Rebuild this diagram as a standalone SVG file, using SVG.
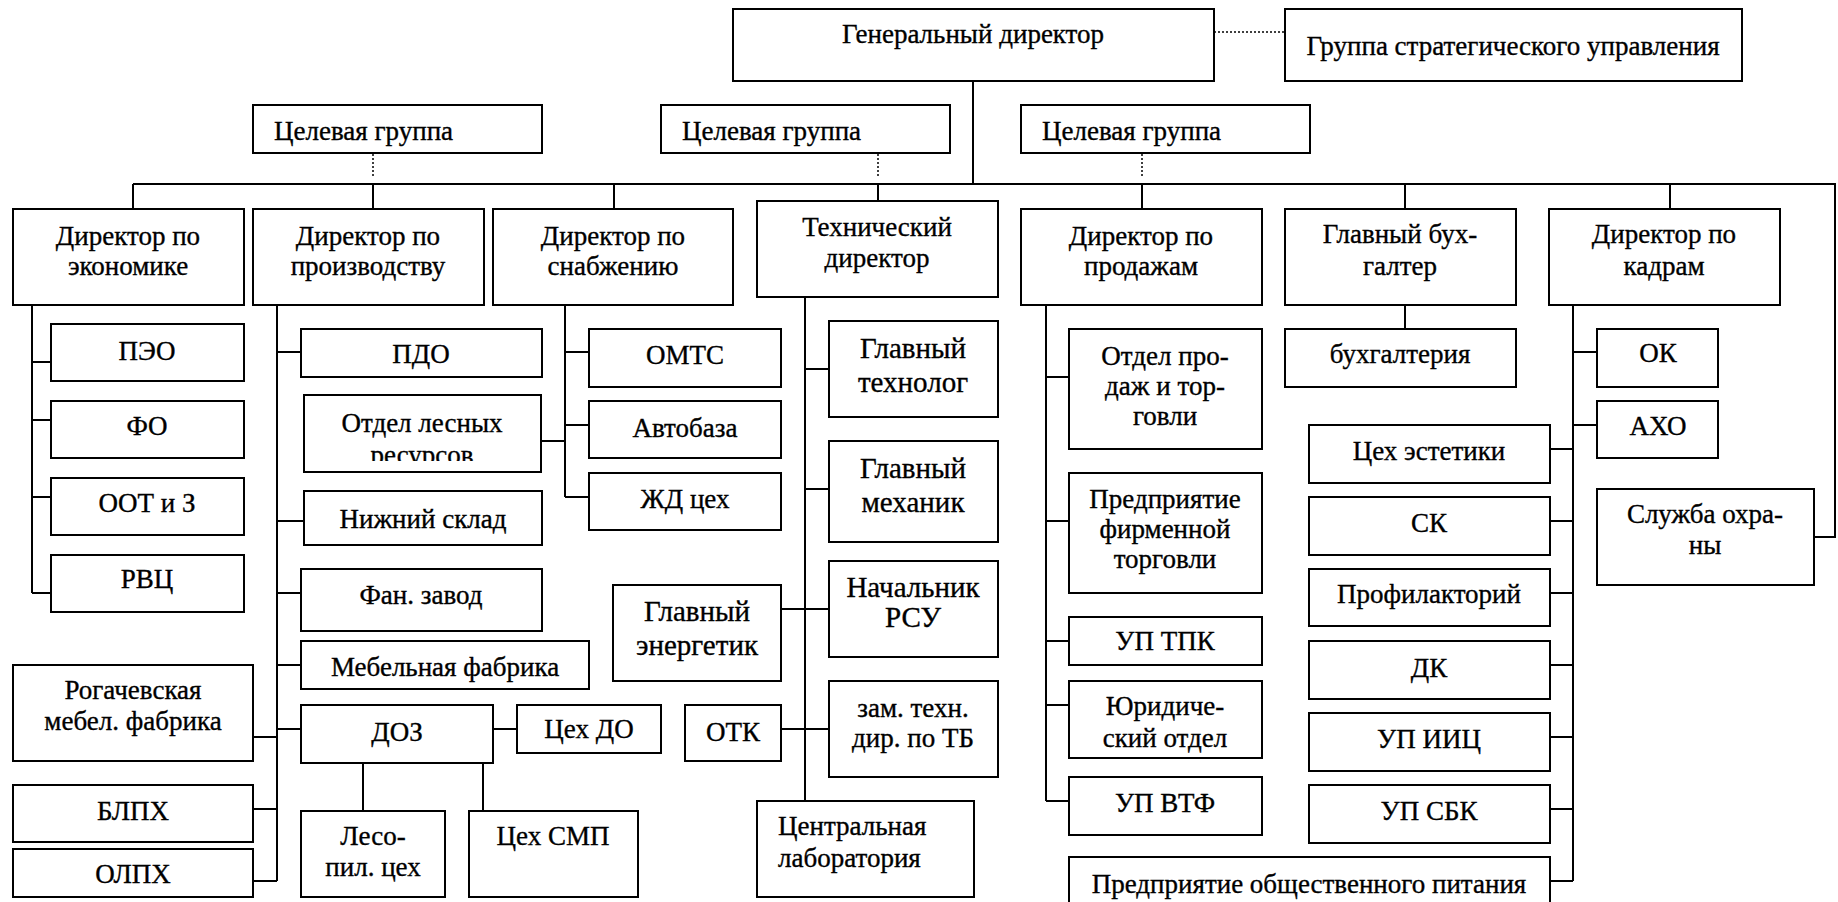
<svg xmlns="http://www.w3.org/2000/svg" width="1838" height="902" viewBox="0 0 1838 902">
  <style>
    .bg { fill: #ffffff; }
    .box { fill: #ffffff; stroke: #000000; stroke-width: 2; }
    .ln { fill: none; stroke: #000000; stroke-width: 2; }
    .dot { fill: none; stroke: #000000; stroke-width: 1.5; stroke-dasharray: 2 2; }
    .lbl text { font-family: 'Liberation Serif', 'Times New Roman', serif; font-size: 27px; fill: #000000; stroke: #000000; stroke-width: 0.35; text-anchor: middle; }
    .lbl text.l { text-anchor: start; }
    .lbl text.big { font-size: 29px; }
  </style>
  <defs>
    <clipPath id="clip-forest">
      <rect x="304" y="395" width="237" height="66"/>
    </clipPath>
  </defs>

  <rect class="bg" x="0" y="0" width="1838" height="902"/>

  <!-- connectors -->
  <g id="connectors">
    <!-- advisory links -->
    <line class="dot" x1="1214" y1="32" x2="1285" y2="32"/>
    <line class="dot" x1="373" y1="154" x2="373" y2="176"/>
    <line class="dot" x1="878" y1="154" x2="878" y2="176"/>
    <line class="dot" x1="1142" y1="154" x2="1142" y2="176"/>

    <!-- main bus -->
    <line class="ln" x1="973" y1="81" x2="973" y2="184"/>
    <polyline class="ln" points="133,184 1835,184 1835,537 1814,537"/>
    <line class="ln" x1="133" y1="184" x2="133" y2="209"/>
    <line class="ln" x1="373" y1="184" x2="373" y2="209"/>
    <line class="ln" x1="614" y1="184" x2="614" y2="209"/>
    <line class="ln" x1="878" y1="184" x2="878" y2="201"/>
    <line class="ln" x1="1142" y1="184" x2="1142" y2="209"/>
    <line class="ln" x1="1405" y1="184" x2="1405" y2="209"/>
    <line class="ln" x1="1670" y1="184" x2="1670" y2="209"/>

    <!-- economy -->
    <line class="ln" x1="32" y1="305" x2="32" y2="593"/>
    <line class="ln" x1="32" y1="362" x2="51" y2="362"/>
    <line class="ln" x1="32" y1="420" x2="51" y2="420"/>
    <line class="ln" x1="32" y1="497" x2="51" y2="497"/>
    <line class="ln" x1="32" y1="593" x2="51" y2="593"/>

    <!-- production -->
    <line class="ln" x1="277" y1="305" x2="277" y2="881"/>
    <line class="ln" x1="277" y1="352" x2="301" y2="352"/>
    <line class="ln" x1="277" y1="521" x2="304" y2="521"/>
    <line class="ln" x1="277" y1="593" x2="301" y2="593"/>
    <line class="ln" x1="277" y1="665" x2="301" y2="665"/>
    <line class="ln" x1="277" y1="729" x2="301" y2="729"/>
    <line class="ln" x1="253" y1="737" x2="277" y2="737"/>
    <line class="ln" x1="253" y1="809" x2="277" y2="809"/>
    <line class="ln" x1="253" y1="881" x2="277" y2="881"/>
    <line class="ln" x1="493" y1="729" x2="517" y2="729"/>
    <line class="ln" x1="363" y1="763" x2="363" y2="811"/>
    <line class="ln" x1="483" y1="763" x2="483" y2="811"/>

    <!-- supply -->
    <line class="ln" x1="565" y1="305" x2="565" y2="497"/>
    <line class="ln" x1="565" y1="352" x2="589" y2="352"/>
    <line class="ln" x1="565" y1="425" x2="589" y2="425"/>
    <line class="ln" x1="565" y1="497" x2="589" y2="497"/>
    <line class="ln" x1="541" y1="441" x2="565" y2="441"/>

    <!-- technical -->
    <line class="ln" x1="805" y1="297" x2="805" y2="801"/>
    <line class="ln" x1="805" y1="369" x2="829" y2="369"/>
    <line class="ln" x1="805" y1="489" x2="829" y2="489"/>
    <line class="ln" x1="781" y1="609" x2="829" y2="609"/>
    <line class="ln" x1="781" y1="729" x2="829" y2="729"/>

    <!-- sales -->
    <line class="ln" x1="1046" y1="305" x2="1046" y2="801"/>
    <line class="ln" x1="1046" y1="377" x2="1069" y2="377"/>
    <line class="ln" x1="1046" y1="521" x2="1069" y2="521"/>
    <line class="ln" x1="1046" y1="641" x2="1069" y2="641"/>
    <line class="ln" x1="1046" y1="705" x2="1069" y2="705"/>
    <line class="ln" x1="1046" y1="801" x2="1069" y2="801"/>

    <!-- accounting -->
    <line class="ln" x1="1405" y1="305" x2="1405" y2="329"/>

    <!-- personnel -->
    <line class="ln" x1="1573" y1="305" x2="1573" y2="881"/>
    <line class="ln" x1="1573" y1="352" x2="1597" y2="352"/>
    <line class="ln" x1="1573" y1="425" x2="1597" y2="425"/>
    <line class="ln" x1="1550" y1="449" x2="1573" y2="449"/>
    <line class="ln" x1="1550" y1="521" x2="1573" y2="521"/>
    <line class="ln" x1="1550" y1="593" x2="1573" y2="593"/>
    <line class="ln" x1="1550" y1="665" x2="1573" y2="665"/>
    <line class="ln" x1="1550" y1="737" x2="1573" y2="737"/>
    <line class="ln" x1="1550" y1="809" x2="1573" y2="809"/>
    <line class="ln" x1="1550" y1="881" x2="1573" y2="881"/>
  </g>

  <g class="lbl">
  <!-- top level -->
  <g id="gen-director"><rect class="box" x="733" y="9" width="481" height="72"/><text x="973" y="43">Генеральный директор</text></g>
  <g id="strategy-group"><rect class="box" x="1285" y="9" width="457" height="72"/><text x="1513" y="55">Группа стратегического управления</text></g>
  <g id="target-group-1"><rect class="box" x="253" y="105" width="289" height="48"/><text class="l" x="274" y="140">Целевая группа</text></g>
  <g id="target-group-2"><rect class="box" x="661" y="105" width="289" height="48"/><text class="l" x="682" y="140">Целевая группа</text></g>
  <g id="target-group-3"><rect class="box" x="1021" y="105" width="289" height="48"/><text class="l" x="1042" y="140">Целевая группа</text></g>

  <!-- directors -->
  <g id="dir-economy"><rect class="box" x="13" y="209" width="231" height="96"/><text x="128" y="245">Директор по</text><text x="128" y="275">экономике</text></g>
  <g id="dir-production"><rect class="box" x="253" y="209" width="231" height="96"/><text x="368" y="245">Директор по</text><text x="368" y="275">производству</text></g>
  <g id="dir-supply"><rect class="box" x="493" y="209" width="240" height="96"/><text x="613" y="245">Директор по</text><text x="613" y="275">снабжению</text></g>
  <g id="dir-technical"><rect class="box" x="757" y="201" width="241" height="96"/><text x="877" y="236">Технический</text><text x="877" y="267">директор</text></g>
  <g id="dir-sales"><rect class="box" x="1021" y="209" width="241" height="96"/><text x="1141" y="245">Директор по</text><text x="1141" y="275">продажам</text></g>
  <g id="chief-accountant"><rect class="box" x="1285" y="209" width="231" height="96"/><text x="1400" y="243">Главный бух-</text><text x="1400" y="275">галтер</text></g>
  <g id="dir-personnel"><rect class="box" x="1549" y="209" width="231" height="96"/><text x="1664" y="243">Директор по</text><text x="1664" y="275">кадрам</text></g>

  <!-- economy units -->
  <g id="peo"><rect class="box" x="51" y="324" width="193" height="57"/><text x="147" y="360">ПЭО</text></g>
  <g id="fo"><rect class="box" x="51" y="401" width="193" height="57"/><text x="147" y="435">ФО</text></g>
  <g id="oot"><rect class="box" x="51" y="478" width="193" height="57"/><text x="147" y="512">ООТ и З</text></g>
  <g id="rvc"><rect class="box" x="51" y="555" width="193" height="57"/><text x="147" y="588">РВЦ</text></g>

  <!-- production units -->
  <g id="pdo"><rect class="box" x="301" y="329" width="241" height="48"/><text x="421" y="363">ПДО</text></g>
  <g id="forest"><rect class="box" x="304" y="395" width="237" height="77"/><text x="422" y="432">Отдел лесных</text><text x="422" y="464" clip-path="url(#clip-forest)">ресурсов</text></g>
  <g id="lower-warehouse"><rect class="box" x="304" y="491" width="238" height="54"/><text x="423" y="528">Нижний склад</text></g>
  <g id="plywood"><rect class="box" x="301" y="569" width="241" height="62"/><text x="421" y="604">Фан. завод</text></g>
  <g id="furniture"><rect class="box" x="301" y="641" width="288" height="48"/><text x="445" y="676">Мебельная фабрика</text></g>
  <g id="doz"><rect class="box" x="301" y="705" width="192" height="58"/><text x="397" y="741">ДОЗ</text></g>
  <g id="shop-do"><rect class="box" x="517" y="705" width="144" height="48"/><text x="589" y="738">Цех ДО</text></g>
  <g id="sawmill"><rect class="box" x="301" y="811" width="144" height="86"/><text x="373" y="845">Лесо-</text><text x="373" y="876">пил. цех</text></g>
  <g id="smp"><rect class="box" x="469" y="811" width="169" height="86"/><text x="553" y="845">Цех СМП</text></g>
  <g id="rogachev"><rect class="box" x="13" y="665" width="240" height="96"/><text x="133" y="699">Рогачевская</text><text x="133" y="730">мебел. фабрика</text></g>
  <g id="blph"><rect class="box" x="13" y="785" width="240" height="57"/><text x="133" y="820">БЛПХ</text></g>
  <g id="olph"><rect class="box" x="13" y="849" width="240" height="48"/><text x="133" y="883">ОЛПХ</text></g>

  <!-- supply units -->
  <g id="omts"><rect class="box" x="589" y="329" width="192" height="58"/><text x="685" y="364">ОМТС</text></g>
  <g id="autobase"><rect class="box" x="589" y="401" width="192" height="57"/><text x="685" y="437">Автобаза</text></g>
  <g id="rail"><rect class="box" x="589" y="473" width="192" height="57"/><text x="685" y="508">ЖД цех</text></g>

  <!-- technical units -->
  <g id="chief-tech"><rect class="box" x="829" y="321" width="169" height="96"/><text class="big" x="913" y="358">Главный</text><text class="big" x="913" y="392">технолог</text></g>
  <g id="chief-mech"><rect class="box" x="829" y="441" width="169" height="101"/><text class="big" x="913" y="478">Главный</text><text class="big" x="913" y="512">механик</text></g>
  <g id="rsu"><rect class="box" x="829" y="561" width="169" height="96"/><text class="big" x="913" y="597">Начальник</text><text class="big" x="913" y="627">РСУ</text></g>
  <g id="chief-energy"><rect class="box" x="613" y="585" width="168" height="96"/><text class="big" x="697" y="621">Главный</text><text class="big" x="697" y="655">энергетик</text></g>
  <g id="otk"><rect class="box" x="685" y="705" width="96" height="56"/><text x="733" y="741">ОТК</text></g>
  <g id="deputy-safety"><rect class="box" x="829" y="681" width="169" height="96"/><text x="913" y="717">зам. техн.</text><text x="913" y="747">дир. по ТБ</text></g>
  <g id="central-lab"><rect class="box" x="757" y="801" width="217" height="96"/><text class="l" x="778" y="835">Центральная</text><text class="l" x="778" y="867">лаборатория</text></g>

  <!-- sales units -->
  <g id="sales-dept"><rect class="box" x="1069" y="329" width="193" height="120"/><text x="1165" y="365">Отдел про-</text><text x="1165" y="395">даж и тор-</text><text x="1165" y="425">говли</text></g>
  <g id="brand-trade"><rect class="box" x="1069" y="473" width="193" height="120"/><text x="1165" y="508">Предприятие</text><text x="1165" y="538">фирменной</text><text x="1165" y="568">торговли</text></g>
  <g id="up-tpk"><rect class="box" x="1069" y="617" width="193" height="48"/><text x="1165" y="650">УП ТПК</text></g>
  <g id="legal"><rect class="box" x="1069" y="681" width="193" height="77"/><text x="1165" y="715">Юридиче-</text><text x="1165" y="747">ский отдел</text></g>
  <g id="up-vtf"><rect class="box" x="1069" y="777" width="193" height="58"/><text x="1165" y="812">УП ВТФ</text></g>

  <!-- accounting unit -->
  <g id="accounting"><rect class="box" x="1285" y="329" width="231" height="58"/><text x="1400" y="363">бухгалтерия</text></g>

  <!-- personnel units -->
  <g id="ok"><rect class="box" x="1597" y="329" width="121" height="58"/><text x="1658" y="362">ОК</text></g>
  <g id="aho"><rect class="box" x="1597" y="401" width="121" height="57"/><text x="1658" y="435">АХО</text></g>
  <g id="security"><rect class="box" x="1597" y="489" width="217" height="96"/><text x="1705" y="523">Служба охра-</text><text x="1705" y="554">ны</text></g>
  <g id="aesthetics"><rect class="box" x="1309" y="425" width="241" height="58"/><text x="1429" y="460">Цех эстетики</text></g>
  <g id="sk"><rect class="box" x="1309" y="497" width="241" height="58"/><text x="1429" y="532">СК</text></g>
  <g id="sanatorium"><rect class="box" x="1309" y="569" width="241" height="57"/><text x="1429" y="603">Профилакторий</text></g>
  <g id="dk"><rect class="box" x="1309" y="641" width="241" height="58"/><text x="1429" y="677">ДК</text></g>
  <g id="up-iic"><rect class="box" x="1309" y="713" width="241" height="58"/><text x="1429" y="748">УП ИИЦ</text></g>
  <g id="up-sbk"><rect class="box" x="1309" y="785" width="241" height="58"/><text x="1429" y="820">УП СБК</text></g>
  <g id="catering"><rect class="box" x="1069" y="857" width="481" height="50"/><text x="1309" y="893">Предприятие общественного питания</text></g>
  </g>
</svg>
